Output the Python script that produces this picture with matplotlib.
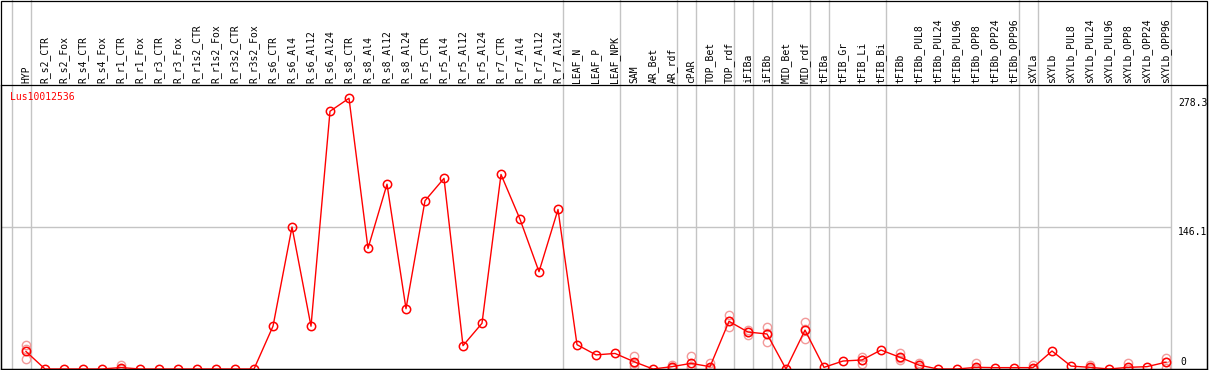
import matplotlib
matplotlib.use("Agg")
import matplotlib.pyplot as plt
from matplotlib.patches import Rectangle

# ---- data ----
labels = [
    "HYP",
    "R_s2_CTR", "R_s2_Fox", "R_s4_CTR", "R_s4_Fox", "R_r1_CTR", "R_r1_Fox",
    "R_r3_CTR", "R_r3_Fox", "R_r1s2_CTR", "R_r1s2_Fox", "R_r3s2_CTR", "R_r3s2_Fox",
    "R_s6_CTR", "R_s6_Al4", "R_s6_Al12", "R_s6_Al24",
    "R_s8_CTR", "R_s8_Al4", "R_s8_Al12", "R_s8_Al24",
    "R_r5_CTR", "R_r5_Al4", "R_r5_Al12", "R_r5_Al24",
    "R_r7_CTR", "R_r7_Al4", "R_r7_Al12", "R_r7_Al24",
    "LEAF_N", "LEAF_P", "LEAF_NPK",
    "SAM", "AR_Bet", "AR_rdf",
    "cPAR",
    "TOP_Bet", "TOP_rdf",
    "iFIBa",
    "iFIBb",
    "MID_Bet", "MID_rdf",
    "tFIBa",
    "tFIB_Gr", "tFIB_Li", "tFIB_Bi",
    "tFIBb", "tFIBb_PUL8", "tFIBb_PUL24", "tFIBb_PUL96",
    "tFIBb_OPP8", "tFIBb_OPP24", "tFIBb_OPP96",
    "sXYLa",
    "sXYLb", "sXYLb_PUL8", "sXYLb_PUL24", "sXYLb_PUL96",
    "sXYLb_OPP8", "sXYLb_OPP24", "sXYLb_OPP96",
]

means = [
    18,
    0, 0, 0, 0, 1.5, 0, 0, 0, 0, 0, 0, 0,
    44, 146, 44, 265,
    278.3, 124, 190, 62,
    173, 196, 24, 47,
    200, 154, 100, 164,
    25, 14.5, 16,
    7.5, 0, 2.4,
    5.8,
    2.4, 49,
    38,
    36,
    0, 40,
    1.7,
    8.2, 9.3, 19.5,
    12, 4, 0, 0,
    1.7, 1.4, 1.4,
    1.4,
    18.5, 3, 1.7, 0,
    1.7, 2.4, 7,
]

# visible individual replicates (faded circles)
replicates = {
    "HYP": [25, 21, 10],
    "R_r1_CTR": [4, 0.5, 0],
    "SAM": [13, 6, 3],
    "AR_rdf": [4, 2, 1],
    "cPAR": [13, 3, 1],
    "TOP_Bet": [6, 1, 0],
    "TOP_rdf": [55.5, 49, 43],
    "iFIBa": [40, 38, 35],
    "iFIBb": [43.5, 37, 27.5],
    "MID_rdf": [48, 41, 31],
    "tFIB_Li": [12.7, 9.5, 5],
    "tFIBb": [16, 11, 9],
    "tFIBb_PUL8": [6.5, 4, 2],
    "tFIBb_OPP8": [6, 1, 0],
    "sXYLa": [4, 0.5, 0],
    "sXYLb_PUL24": [4, 1, 0],
    "sXYLb_OPP8": [6, 0, 0],
    "sXYLb_OPP96": [11.6, 7, 1],
}

# last column index of each group (gray separators drawn right after it)
group_ends = [-1, 0, 28, 31, 34, 35, 37, 38, 39, 41, 42, 45, 52, 53, 60]

y_ticks = [0, 146.1, 278.3]
gene = "Lus10012536"


def main() -> None:
    W, H = 1209, 370
    fig = plt.figure(figsize=(W / 100, H / 100), dpi=100)
    fig.patch.set_facecolor("white")

    # pixel geometry of the plotting region
    top_px, bot_px = 84.5, 369.0
    left_px, right_px = 1.0, 1207.0
    ax = fig.add_axes([left_px / W, (H - bot_px) / H,
                       (right_px - left_px) / W, (bot_px - top_px) / H])

    x0, dx = 26.0, 19.0  # pixel x of first column and column step
    ax.set_xlim((left_px - x0) / dx, (right_px - x0) / dx)
    px_per_unit = (bot_px - 98.3) / max(means)
    ax.set_ylim(0, (bot_px - top_px) / px_per_unit)
    ax.set_xticks([])
    ax.set_yticks([])
    for s in ax.spines.values():
        s.set_color("black")
        s.set_linewidth(0.9)

    mono = "DejaVu Sans Mono"
    grey = "#c4c4c4"
    red = "#ff0000"
    xs = list(range(len(labels)))

    # separators reach up through the header
    top_frac = (bot_px - 0) / (bot_px - top_px)
    for g in group_ends:
        ax.axvline(g + 0.25, ymin=0, ymax=top_frac, color=grey, lw=1.0,
                   clip_on=False, zorder=1)
    ax.hlines(y_ticks[1], ax.get_xlim()[0], group_ends[-1] + 0.25,
              color=grey, lw=1.0, zorder=1)

    # column headers
    for i, lab in enumerate(labels):
        ax.text(i, 1.005, lab, transform=ax.get_xaxis_transform(),
                rotation=90, ha="center", va="bottom", fontsize=7,
                family=mono, clip_on=False)

    # replicate circles
    for lab, vals in replicates.items():
        i = labels.index(lab)
        ax.plot([i] * len(vals), vals, ls="none", marker="o", ms=6,
                mfc="none", mec="#f29a9a", mew=1.0, zorder=2)

    # mean profile
    ax.plot(xs, means, color=red, lw=1.0, marker="o", ms=6, mfc="none",
            mec=red, mew=1.1, zorder=3)

    ax.text((10 - x0) / dx, (bot_px - 97) / px_per_unit, gene, color=red,
            fontsize=7, family=mono, ha="left", va="center")

    # value labels on the right
    tx = (1178 - x0) / dx
    ax.text(tx, y_ticks[2], f"{y_ticks[2]}", fontsize=7, family=mono,
            ha="left", va="top")
    ax.text(tx, y_ticks[1], f"{y_ticks[1]}", fontsize=7, family=mono,
            ha="left", va="top")
    ax.text(tx + 0.1, 2, "0", fontsize=7, family=mono, ha="left", va="bottom")

    # outer frame of the whole picture
    fig.add_artist(Rectangle((0.5 / W, (H - bot_px) / H),
                             (right_px - 0.5) / W, (bot_px - 0.5) / H,
                             transform=fig.transFigure, fill=False,
                             edgecolor="black", lw=0.9))

    fig.savefig("out.png", dpi=100)
    plt.close(fig)


if __name__ == "__main__":
    main()
